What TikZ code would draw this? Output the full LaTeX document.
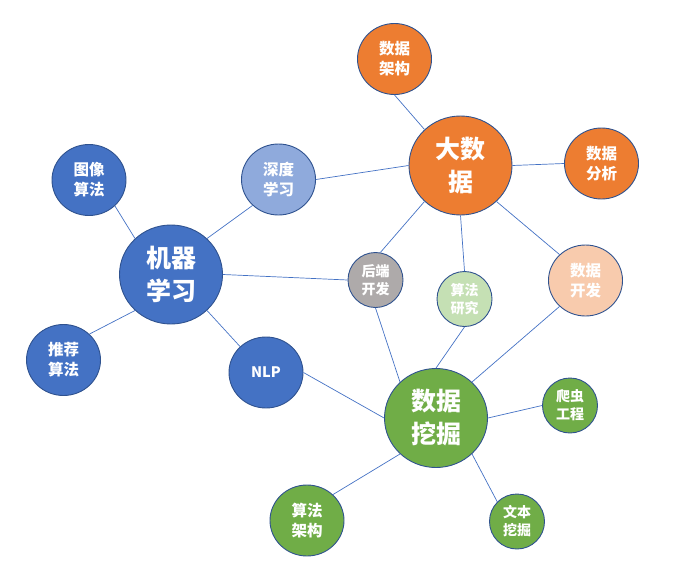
\documentclass[tikz,border=0pt]{standalone}
\usepackage{fontspec}
\newfontfamily\cjk{Noto Sans CJK SC}
\usetikzlibrary{shapes.geometric}
\definecolor{cOrange}{HTML}{ED7D31}
\definecolor{cBlue}{HTML}{4472C4}
\definecolor{cLBlue}{HTML}{8FAADC}
\definecolor{cGray}{HTML}{AEAAAA}
\definecolor{cLGreen}{HTML}{C5E0B4}
\definecolor{cPeach}{HTML}{F8CBAD}
\definecolor{cGreen}{HTML}{70AD47}
\definecolor{cEdge}{HTML}{2F528F}
\definecolor{cLine}{HTML}{4472C4}
\tikzset{
  bub/.style={ellipse, draw=cEdge, line width=0.9pt, text=white, inner sep=0pt, align=center, font=\cjk\bfseries},
  big/.style={bub, minimum width=103pt, minimum height=99pt, font=\cjk\bfseries\fontsize{25}{33}\selectfont},
  mid/.style={bub, minimum width=74pt, minimum height=71pt, font=\cjk\bfseries\fontsize{15.5}{20}\selectfont},
  sml/.style={bub, minimum width=55pt, minimum height=55pt, font=\cjk\bfseries\fontsize{14}{18}\selectfont},
  link/.style={draw=cLine, line width=0.7pt}
}
\begin{document}
\begin{tikzpicture}[x=1pt,y=-1pt]
\useasboundingbox (0,0) rectangle (687,586);
% nodes
\node[big, fill=cOrange] (dsj) at (460.5,165.5) {大数\\据};
\node[mid, fill=cOrange] (sjjg) at (394.5,59) {数据\\架构};
\node[mid, fill=cOrange] (sjfx) at (601.5,163.5) {数据\\分析};
\node[mid, fill=cLBlue] (sdxx) at (278.5,179.5) {深度\\学习};
\node[mid, fill=cBlue] (txsf) at (89,180) {图像\\算法};
\node[big, fill=cBlue] (jqxx) at (171,274.5) {机器\\学习};
\node[mid, fill=cBlue] (tjsf) at (63.5,360) {推荐\\算法};
\node[mid, fill=cBlue, font=\cjk\bfseries\fontsize{14.5}{18}\selectfont] (nlp) at (266,372.5) {NLP};
\node[sml, fill=cGray] (hdkf) at (375.5,280) {后端\\开发};
\node[sml, fill=cLGreen] (sfyj) at (464.5,299) {算法\\研究};
\node[mid, fill=cPeach] (sjkf) at (585.5,280.5) {数据\\开发};
\node[big, fill=cGreen] (sjwj) at (436,418) {数据\\挖掘};
\node[sml, fill=cGreen] (cgc) at (570,405.5) {爬虫\\工程};
\node[mid, fill=cGreen] (sfjg) at (307,520.5) {算法\\架构};
\node[sml, fill=cGreen] (wbwj) at (517,521.5) {文本\\挖掘};
% connectors
\draw[link] (sjjg.south) -- (dsj.135);
\draw[link] (dsj.east) -- (sjfx.west);
\draw[link] (sdxx.east) -- (dsj.west);
\draw[link] (dsj.225) -- (hdkf.80);
\draw[link] (dsj.south) -- (sfyj.north);
\draw[link] (dsj.315) -- (sjkf.135);
\draw[link] (sdxx.225) -- (jqxx.45);
\draw[link] (txsf.315) -- (jqxx.135);
\draw[link] (jqxx.225) -- (tjsf.45);
\draw[link] (jqxx.315) -- (nlp.135);
\draw[link] (jqxx.east) -- (hdkf.west);
\draw[link] (hdkf.south) -- (sjwj.135);
\draw[link] (sfyj.south) -- (sjwj.north);
\draw[link] (sjkf.225) -- (sjwj.45);
\draw[link] (nlp.east) -- (sjwj.west);
\draw[link] (sjwj.east) -- (cgc.west);
\draw[link] (sjwj.225) -- (sfjg.45);
\draw[link] (sjwj.315) -- (wbwj.135);
\end{tikzpicture}
\end{document}
